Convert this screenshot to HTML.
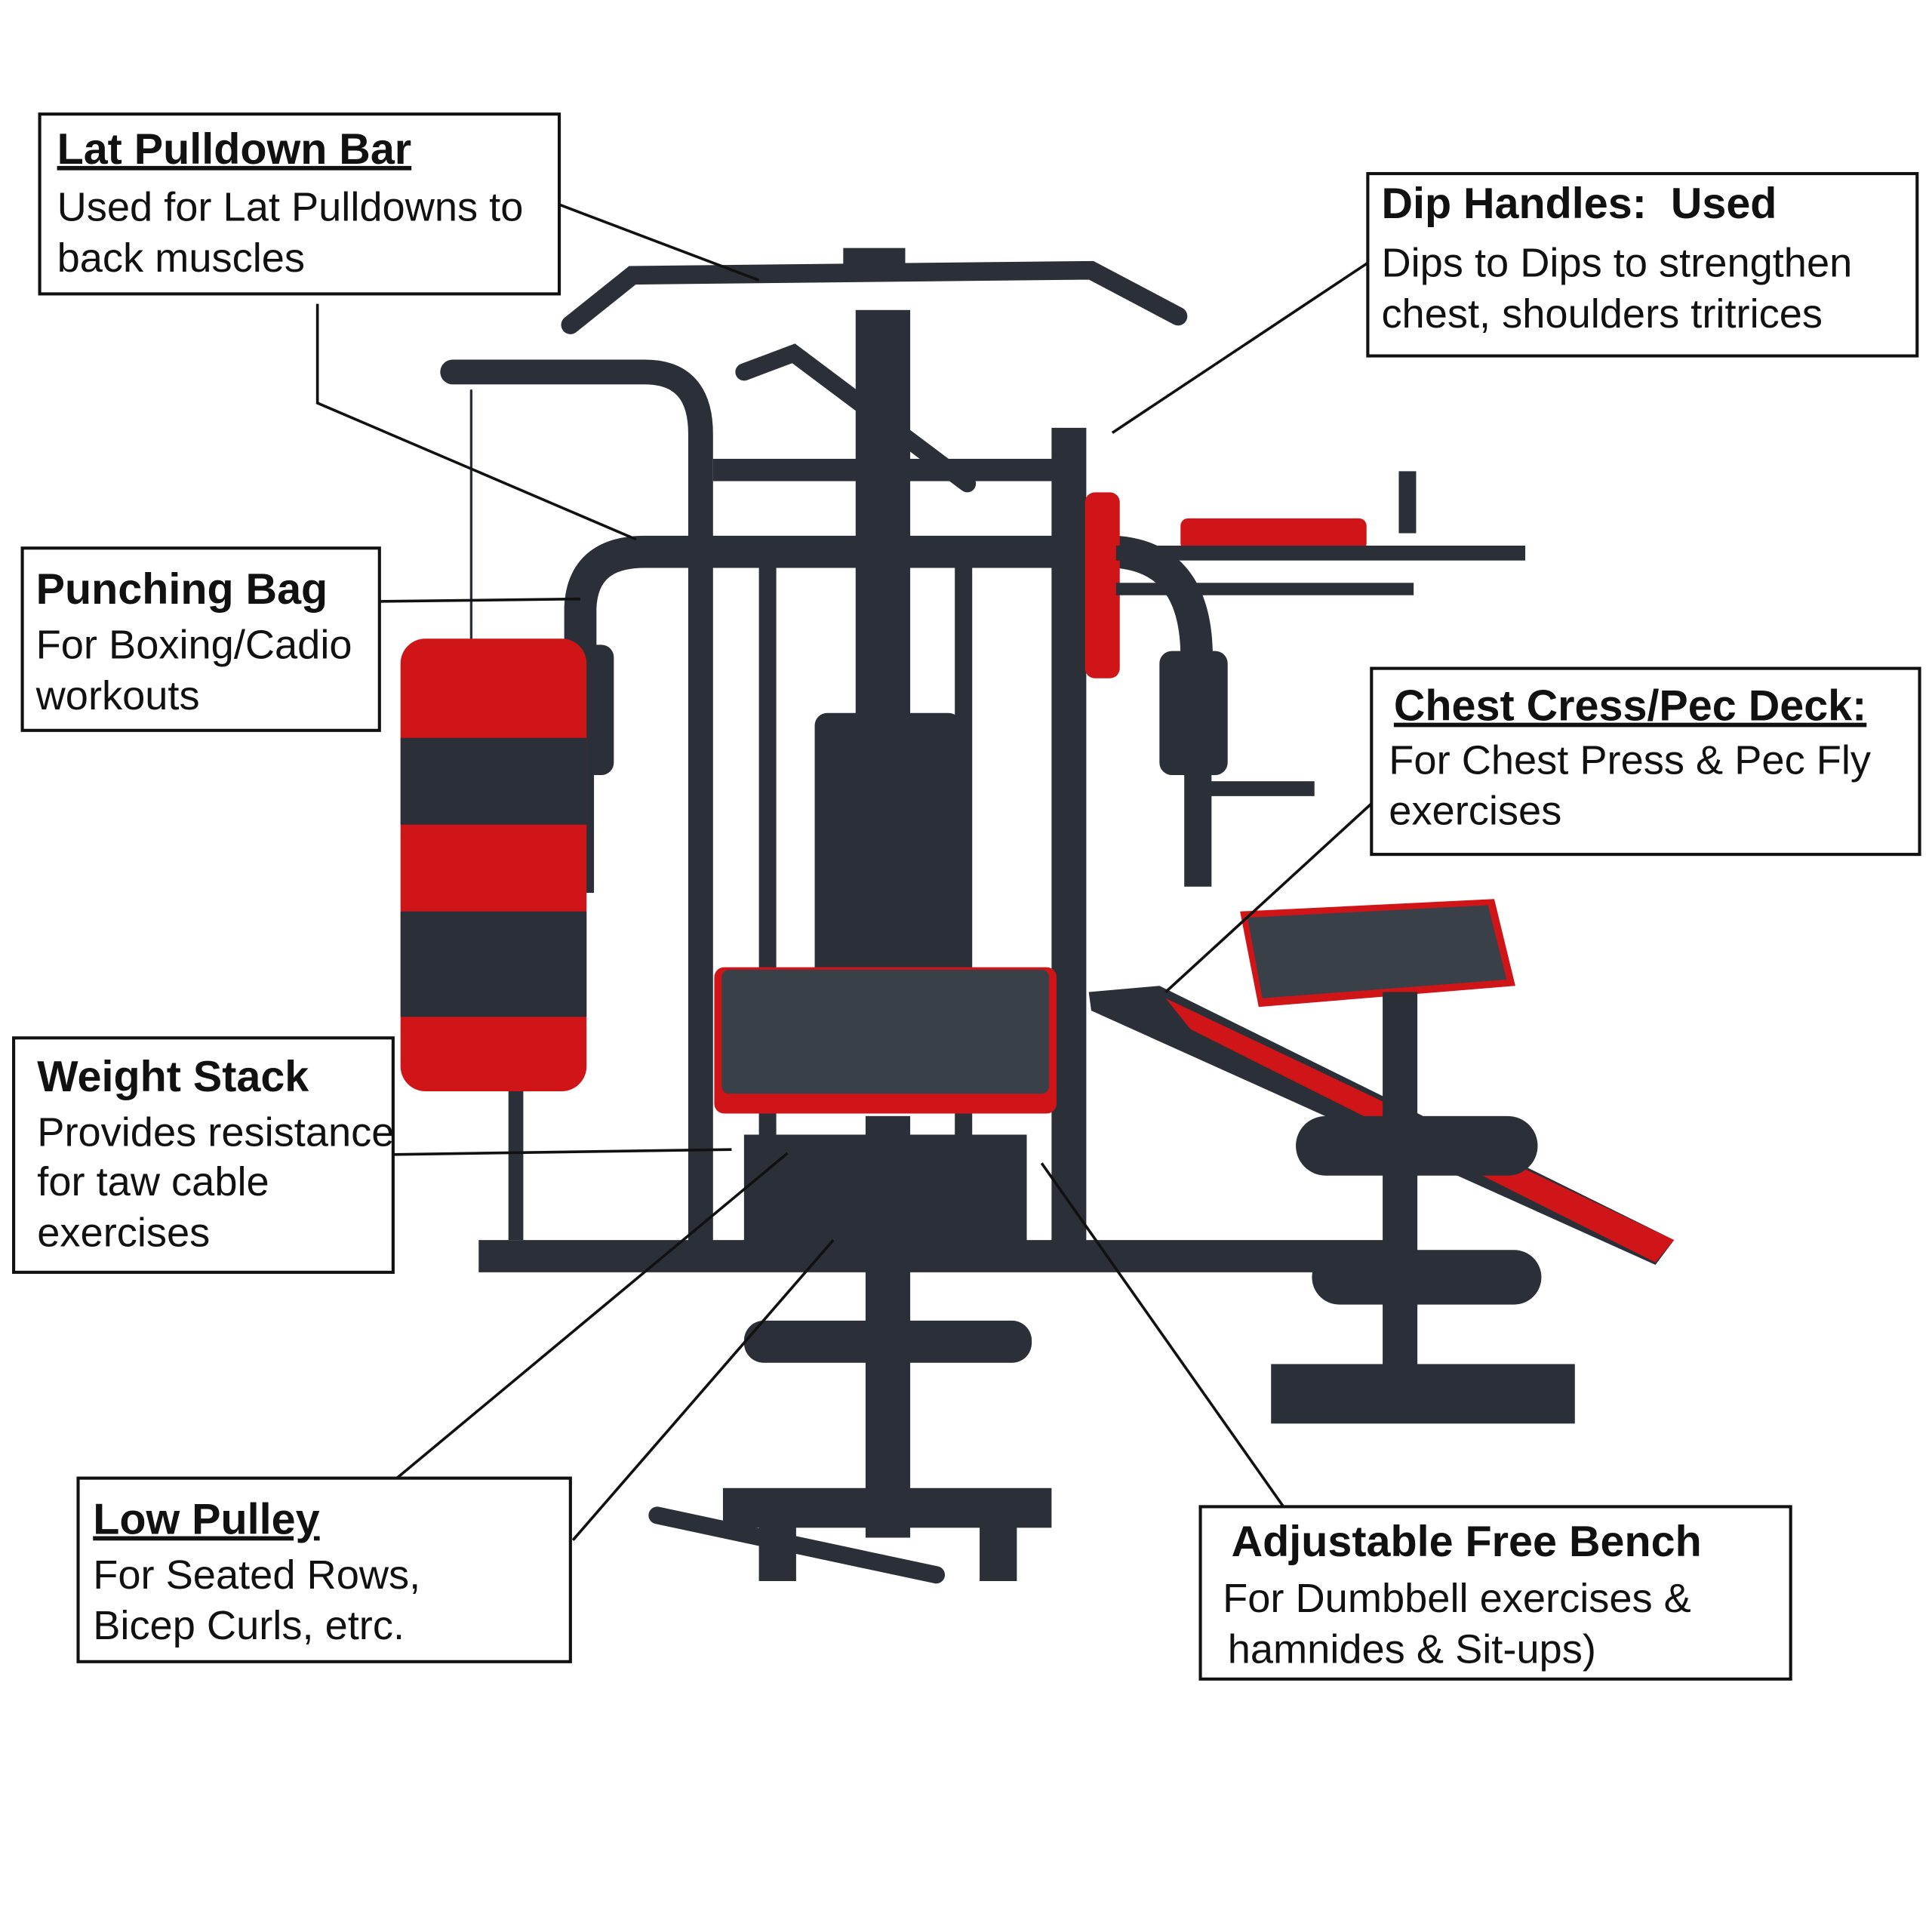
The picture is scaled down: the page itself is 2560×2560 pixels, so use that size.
<!DOCTYPE html>
<html><head><meta charset="utf-8"><style>
html,body{margin:0;padding:0;background:#fff}
svg{display:block}
text{font-family:"Liberation Sans",sans-serif;fill:#111}
.t{font-weight:bold;font-size:35px}
.b{font-size:33px}
.bx{fill:#fff;stroke:#111;stroke-width:2.5}
.ln{stroke:#111;stroke-width:2.2;fill:none}
.d{fill:#2b3038}
.r{fill:#d01519}
.p{stroke:#2b3038;fill:none;stroke-linecap:round}
</style></head><body>
<svg width="2560" height="2560" viewBox="0 0 1558 1558" xmlns="http://www.w3.org/2000/svg">
<rect width="1558" height="1558" fill="#fff"/>
<g>
<path class="p" d="M460 262 L510 222 L880 218 L950 255" stroke-width="15"/>
<rect class="d" x="680" y="200" width="50" height="18"/>
<rect class="d" x="690" y="250" width="44" height="340"/>
<path class="p" d="M600 300 L640 285 L700 330 L780 390" stroke-width="14"/>
<path class="p" d="M365 300 L520 300 Q565 300 565 350 L565 1000" stroke-width="20"/>
<rect class="d" x="575" y="370" width="290" height="18"/>
<rect class="d" x="848" y="345" width="28" height="660"/>
<rect class="d" x="612" y="440" width="14" height="560"/>
<rect class="d" x="770" y="440" width="14" height="560"/>
<path class="p" d="M468 560 L468 490 Q470 445 520 445 L900 445 Q965 450 965 530" stroke-width="26"/>
<rect class="d" x="440" y="520" width="55" height="105" rx="10"/>
<rect class="d" x="457" y="620" width="22" height="100"/>
<rect class="d" x="935" y="525" width="55" height="100" rx="10"/>
<rect class="d" x="955" y="620" width="22" height="95"/>
<rect class="d" x="975" y="630" width="85" height="12"/>
<rect class="d" x="372" y="632" width="85" height="12"/>
<rect class="r" x="875" y="397" width="28" height="150" rx="8"/>
<rect class="r" x="952" y="418" width="150" height="26" rx="6"/>
<rect class="d" x="900" y="440" width="330" height="12"/>
<rect class="d" x="900" y="470" width="240" height="10"/>
<rect class="d" x="1128" y="380" width="14" height="50"/>
<rect class="d" x="657" y="575" width="118" height="215" rx="10"/>
<rect class="r" x="576" y="780" width="276" height="118" rx="8"/>
<rect x="582" y="782" width="264" height="100" rx="6" fill="#3a4048"/>
<rect class="d" x="600" y="915" width="228" height="90"/>
<rect class="d" x="698" y="900" width="36" height="340"/>
<rect class="d" x="386" y="1000" width="730" height="26"/>
<rect class="d" x="600" y="1065" width="232" height="34" rx="16"/>
<rect class="d" x="583" y="1200" width="265" height="32"/>
<rect class="d" x="612" y="1230" width="30" height="45"/>
<rect class="d" x="790" y="1230" width="30" height="45"/>
<path class="p" d="M530 1222 L755 1270" stroke-width="14"/>
<path class="p" d="M380 315 L380 515" stroke="#999" stroke-width="2"/>
<rect class="r" x="323" y="515" width="150" height="365" rx="20"/>
<rect class="d" x="323" y="595" width="150" height="70"/>
<rect class="d" x="323" y="735" width="150" height="85"/>
<rect class="d" x="410" y="880" width="12" height="120"/>
<path d="M878 800 L935 795 L1350 1000 L1335 1020 L880 815Z" class="d"/>
<path d="M940 805 L1350 1000 L1335 1018 L960 830Z" class="r"/>
<path d="M1000 735 L1205 725 L1222 795 L1015 812Z" class="r"/>
<path d="M1006 740 L1200 730 L1215 790 L1018 805Z" fill="#3a4048"/>
<rect class="d" x="1115" y="800" width="28" height="310"/>
<rect class="d" x="1045" y="900" width="195" height="48" rx="24"/>
<rect class="d" x="1058" y="1008" width="185" height="44" rx="22"/>
<rect class="d" x="1025" y="1100" width="245" height="48"/>
</g>
<path class="ln" d="M451 165 L612 226"/>
<path class="ln" d="M256 245 L256 325 L513 435"/>
<path class="ln" d="M1103 212 L897 349"/>
<path class="ln" d="M306 485 L468 483"/>
<path class="ln" d="M1106 648 L940 800"/>
<path class="ln" d="M317 931 L590 927"/>
<path class="ln" d="M320 1192 L635 930"/>
<path class="ln" d="M462 1242 L672 1000"/>
<path class="ln" d="M1035 1215 L840 938"/>
<rect class="bx" x="32" y="92" width="419" height="145"/>
<text class="t" x="46" y="132" text-decoration="underline">Lat Pulldown Bar</text>
<text class="b" x="46" y="178">Used for Lat Pulldowns to</text>
<text class="b" x="46" y="219">back muscles</text>
<rect class="bx" x="1103" y="140" width="443" height="147"/>
<text class="t" x="1114" y="176" xml:space="preserve">Dip Handles:  Used</text>
<text class="b" x="1114" y="223">Dips to Dips to strengthen</text>
<text class="b" x="1114" y="264">chest, shoulders tritrices</text>
<rect class="bx" x="18" y="442" width="288" height="147"/>
<text class="t" x="29" y="487">Punching Bag</text>
<text class="b" x="29" y="531">For Boxing/Cadio</text>
<text class="b" x="29" y="572">workouts</text>
<rect class="bx" x="1106" y="539" width="442" height="150"/>
<text class="t" x="1124" y="581" text-decoration="underline">Chest Cress/Pec Deck:</text>
<text class="b" x="1120" y="624">For Chest Press &amp; Pec Fly</text>
<text class="b" x="1120" y="665">exercises</text>
<rect class="bx" x="11" y="837" width="306" height="189"/>
<text class="t" x="30" y="880">Weight Stack</text>
<text class="b" x="30" y="924">Provides resistance</text>
<text class="b" x="30" y="964">for taw cable</text>
<text class="b" x="30" y="1005">exercises</text>
<rect class="bx" x="63" y="1192" width="397" height="148"/>
<text class="t" x="75" y="1237" text-decoration="underline">Low Pulley</text>
<text class="b" x="75" y="1281">For Seated Rows,</text>
<text class="b" x="75" y="1322">Bicep Curls, etrc.</text>
<rect class="bx" x="968" y="1215" width="476" height="139"/>
<text class="t" x="993" y="1255">Adjustable Free Bench</text>
<text class="b" x="986" y="1300">For Dumbbell exercises &amp;</text>
<text class="b" x="990" y="1341">hamnides &amp; Sit-ups)</text>
</svg>
</body></html>
